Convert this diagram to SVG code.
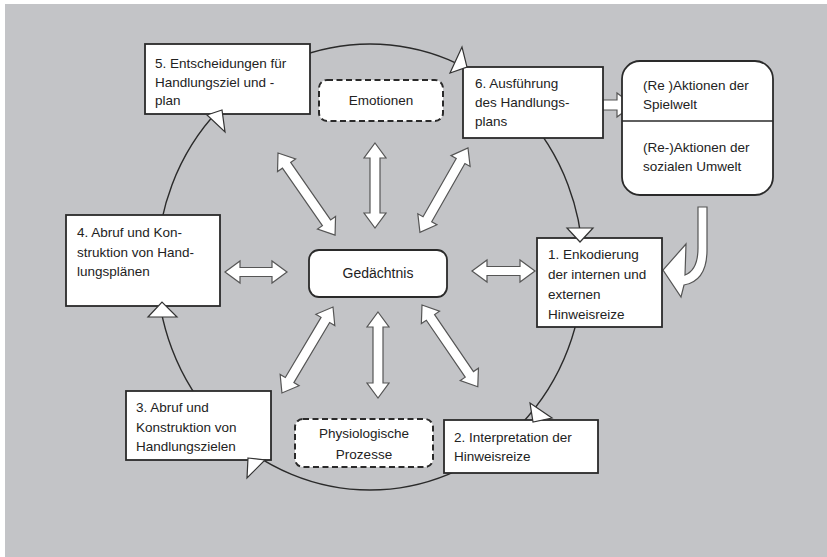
<svg xmlns="http://www.w3.org/2000/svg" width="827" height="557" viewBox="0 0 827 557">
<style>
.t{font-family:"Liberation Sans",Arial,sans-serif;font-size:13.5px;fill:#222}
.c{text-anchor:middle}
.box{fill:#fff;stroke:#2a2a2a;stroke-width:1.8}
.dash{fill:#fff;stroke:#2a2a2a;stroke-width:2;stroke-dasharray:6 3.5}
.blk{fill:#fff;stroke:#555;stroke-width:1.2;stroke-linejoin:miter}
.head{fill:#fff;stroke:#333;stroke-width:1.2;stroke-linejoin:miter}
.ring{fill:none;stroke:#2a2a2a;stroke-width:1.4}
</style>
<rect x="0" y="0" width="827" height="557" fill="#fff"/>
<rect x="5" y="4" width="822" height="553" fill="#c3c4c7"/>
<g id="connectors">
<ellipse class="ring" cx="370" cy="267" rx="213" ry="223"/>
<path class="blk" transform="translate(375,143) rotate(90)" d="M0,0 L15,-11 L15,-5 L70,-5 L70,-11 L85,0 L70,11 L70,5 L15,5 L15,11 Z"/>
<path class="blk" transform="translate(278,153) rotate(55.2)" d="M0,0 L15,-11 L15,-5 L85,-5 L85,-11 L100,0 L85,11 L85,5 L15,5 L15,11 Z"/>
<path class="blk" transform="translate(468,148) rotate(119.7)" d="M0,0 L15,-11 L15,-5 L82,-5 L82,-11 L97,0 L82,11 L82,5 L15,5 L15,11 Z"/>
<path class="blk" transform="translate(225,272)" d="M0,0 L15,-11 L15,-4.5 L47,-4.5 L47,-11 L62,0 L47,11 L47,4.5 L15,4.5 L15,11 Z"/>
<path class="blk" transform="translate(472,271)" d="M0,0 L15,-11 L15,-4.5 L48,-4.5 L48,-11 L63,0 L48,11 L48,4.5 L15,4.5 L15,11 Z"/>
<path class="blk" transform="translate(333,307) rotate(120.7)" d="M0,0 L15,-11 L15,-5 L85,-5 L85,-11 L100,0 L85,11 L85,5 L15,5 L15,11 Z"/>
<path class="blk" transform="translate(378,312) rotate(90)" d="M0,0 L15,-11 L15,-5 L71,-5 L71,-11 L86,0 L71,11 L71,5 L15,5 L15,11 Z"/>
<path class="blk" transform="translate(422,305) rotate(55.7)" d="M0,0 L15,-11 L15,-5 L84,-5 L84,-11 L99,0 L84,11 L84,5 L15,5 L15,11 Z"/>
<path class="blk" d="M592,100 L617,100 L617,93 L633,105 L617,117 L617,110 L592,110 Z"/>
<path class="blk" d="M698,207 L707,207 L707,250 Q707,281 684,285 L681,297 L663,270 L686,244 L685,275 Q698,270 698,248 Z"/>
</g>
<g id="n5"><rect class="box" x="145" y="44" width="165" height="70"/>
<text class="t" x="155" y="68">5. Entscheidungen für</text>
<text class="t" x="155" y="87">Handlungsziel und -</text>
<text class="t" x="155" y="105">plan</text></g>
<g id="emo"><rect class="dash" x="319" y="80" width="124" height="41" rx="8"/>
<text class="t c" x="381" y="105">Emotionen</text></g>
<g id="n6"><rect class="box" x="463" y="67" width="140" height="71"/>
<text class="t" x="475" y="88">6. Ausführung</text>
<text class="t" x="475" y="107">des Handlungs-</text>
<text class="t" x="475" y="126">plans</text></g>
<g id="welt"><rect class="box" x="622" y="61" width="151" height="134" rx="18"/>
<line x1="622" y1="121" x2="773" y2="121" stroke="#2a2a2a" stroke-width="1.4"/>
<text class="t" x="643" y="90">(Re )Aktionen der</text>
<text class="t" x="643" y="109">Spielwelt</text>
<text class="t" x="643" y="152">(Re-)Aktionen der</text>
<text class="t" x="643" y="171">sozialen Umwelt</text></g>
<g id="n1"><rect class="box" x="537" y="238" width="125" height="89"/>
<text class="t" x="548" y="259">1. Enkodierung</text>
<text class="t" x="548" y="279">der internen und</text>
<text class="t" x="548" y="299">externen</text>
<text class="t" x="548" y="319">Hinweisreize</text></g>
<g id="n4"><rect class="box" x="66" y="215" width="154" height="91"/>
<text class="t" x="77" y="237">4. Abruf und Kon-</text>
<text class="t" x="77" y="257">struktion von Hand-</text>
<text class="t" x="77" y="276">lungsplänen</text></g>
<g id="mem"><rect class="box" x="309" y="250" width="138" height="47" rx="10"/>
<text class="t c" x="378" y="278" style="font-size:14px">Gedächtnis</text></g>
<g id="n3"><rect class="box" x="126" y="391" width="145" height="69"/>
<text class="t" x="136" y="412">3. Abruf und</text>
<text class="t" x="136" y="432">Konstruktion von</text>
<text class="t" x="136" y="451">Handlungszielen</text></g>
<g id="phys"><rect class="dash" x="295" y="419" width="138" height="48" rx="8"/>
<text class="t c" x="364" y="438">Physiologische</text>
<text class="t c" x="364" y="459">Prozesse</text></g>
<g id="n2"><rect class="box" x="444" y="420" width="154" height="53"/>
<text class="t" x="454" y="442">2. Interpretation der</text>
<text class="t" x="454" y="461">Hinweisreize</text></g>
<g id="heads">
<polygon class="head" points="462,47 450,73 467,67"/>
<polygon class="head" points="567,228 593,228 580,242"/>
<polygon class="head" points="530,403 533,422 552,418"/>
<polygon class="head" points="248,458 265,460 247,478"/>
<polygon class="head" points="148,317 162,302 177,317"/>
<polygon class="head" points="207,115 222,110 225,132"/>
</g>
</svg>
